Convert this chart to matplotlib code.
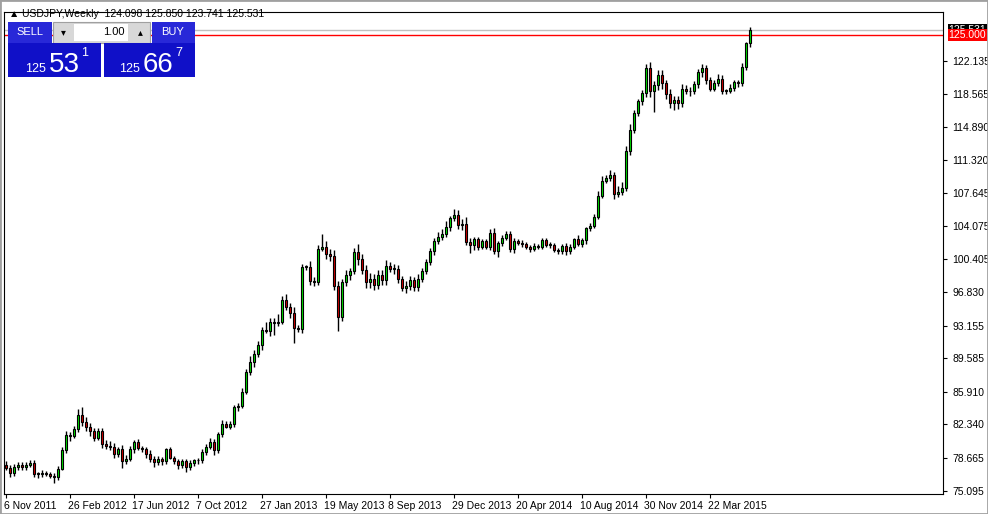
import numpy as np
import matplotlib.pyplot as plt
from matplotlib.patches import Rectangle

# weekly closes USDJPY, 6 Nov 2011 .. 31 May 2015 (one row per month)
closes = [
    77.6, 77.0, 77.7, 77.9,
    77.7, 77.9, 78.1, 76.9,
    76.9, 77.0, 76.9, 76.7, 76.6,
    77.5, 79.5, 81.2, 81.1,
    81.8, 83.4, 82.6, 82.1,
    81.6, 80.9, 81.6, 80.2, 80.0,
    79.9, 79.1, 79.6, 78.3,
    78.6, 79.6, 80.4, 79.8,
    79.6, 79.1, 78.5, 78.2, 78.6,
    78.3, 79.6, 78.7, 78.3,
    77.9, 78.3, 77.7, 78.1, 78.4,
    78.4, 79.3, 79.9, 80.4,
    79.5, 81.3, 82.4, 82.1,
    82.4, 84.2, 84.4, 85.9, 88.1,
    89.2, 90.1, 91.0, 92.7,
    92.6, 93.5, 93.4, 93.6,
    96.0, 95.2, 94.5, 92.9, 92.8,
    99.6, 99.6, 98.0, 97.9,
    101.6, 101.8, 101.0, 100.8,
    97.5, 94.1, 97.9, 98.7, 99.1,
    101.2, 100.4, 99.2, 97.9,
    98.3, 97.6, 98.7, 98.1,
    99.7, 99.4, 99.4, 98.3, 97.3,
    97.5, 98.2, 97.4, 98.3,
    99.1, 100.1, 101.3, 102.4,
    102.9, 103.2, 104.0, 104.9, 105.3,
    104.2, 104.3, 102.3, 102.0,
    102.6, 101.8, 102.4, 101.8,
    103.3, 101.3, 102.2, 102.8, 103.2,
    101.5, 102.4, 102.2, 102.1,
    101.8, 101.5, 101.9, 101.8,
    102.5, 102.0, 102.0, 101.4, 101.3,
    101.9, 101.3, 101.8, 102.6,
    102.1, 102.5, 103.8, 104.1, 105.1,
    107.4, 109.0, 109.3, 109.7,
    107.6, 107.8, 108.2, 112.3,
    114.6, 116.4, 117.7, 118.6, 121.4,
    118.8, 119.5, 120.6, 119.7,
    118.5, 117.5, 117.9, 117.5,
    119.1, 118.8, 118.9, 119.6,
    120.9, 121.4, 120.0, 119.1, 119.7,
    120.2, 118.9, 118.9, 119.2,
    119.8, 119.7, 121.5, 124.1, 125.531,
]
first_open = 77.9

# wick lengths above body / below body
wick_up = [
    0.4, 0.3, 0.3, 0.3,   0.3, 0.3, 0.3, 0.3,   0.2, 0.3, 0.2, 0.2, 0.3,
    0.3, 0.4, 0.4, 0.3,   0.4, 0.6, 0.8, 0.5,   0.4, 0.4, 0.3, 0.4, 0.4,
    0.5, 0.4, 0.3, 0.5,   0.4, 0.4, 0.2, 0.3,   0.2, 0.3, 0.4, 0.4, 0.3,
    0.2, 0.2, 0.3, 0.2,   0.3, 0.2, 0.3, 0.3, 0.2,   0.3, 0.3, 0.3, 0.4,
    0.3, 0.2, 0.4, 0.3,   0.3, 0.3, 0.3, 0.4, 0.3,   0.6, 0.4, 0.5, 0.3,
    0.8, 0.5, 0.5, 0.8,   0.4, 0.6, 0.4, 0.7, 0.3,   0.3, 0.2, 0.6, 0.5,
    0.4, 1.4, 0.6, 0.5,   0.6, 0.5, 0.4, 0.5, 0.4,   0.5, 0.9, 0.6, 0.6,
    0.6, 0.5, 0.6, 0.5,   0.6, 0.4, 0.5, 0.4, 0.3,   0.5, 0.4, 0.3, 0.5,
    0.4, 0.4, 0.4, 0.3,   0.5, 0.5, 0.6, 0.3, 0.6,   0.5, 0.5, 0.7, 0.4,
    0.3, 0.3, 0.2, 0.2,   0.4, 0.6, 0.2, 0.3, 0.3,   0.3, 0.3, 0.2, 0.3,
    0.2, 0.2, 0.3, 0.2,   0.3, 0.2, 0.3, 0.2, 0.3,   0.2, 0.3, 0.3, 0.2,
    0.5, 0.3, 0.2, 0.3, 0.3,   0.5, 0.5, 0.3, 0.5,   0.3, 0.6, 0.7, 0.5,
    0.6, 0.4, 0.3, 0.4, 0.4,   0.6, 0.4, 0.6, 0.5,   0.3, 0.6, 0.4, 0.4,
    0.5, 0.4, 0.4, 0.3,   0.4, 0.4, 0.3, 0.4, 0.4,   0.5, 0.4, 0.2, 0.4,
    0.3, 0.3, 0.4, 0.1, 0.32,
]
wick_dn = [
    0.3, 0.4, 0.3, 0.3,   0.3, 0.3, 0.2, 0.3,   0.4, 0.3, 0.2, 0.2, 0.7,
    0.3, 0.2, 0.3, 0.6,   0.3, 0.3, 0.4, 0.5,   0.5, 0.4, 0.3, 0.4, 0.3,
    0.4, 0.4, 0.3, 0.7,   0.3, 0.3, 0.4, 0.3,   0.3, 0.4, 0.3, 0.5, 0.3,
    0.4, 0.3, 0.2, 0.3,   0.4, 0.3, 0.6, 0.3, 0.3,   0.4, 0.3, 0.3, 0.3,
    0.5, 0.3, 0.3, 0.2,   0.3, 0.3, 0.4, 0.3, 0.2,   0.4, 0.6, 0.4, 0.5,
    0.3, 0.6, 1.3, 0.3,   0.3, 0.3, 0.5, 1.6, 0.3,   0.4, 0.3, 0.4, 0.4,
    0.3, 0.3, 0.5, 0.6,   0.4, 1.5, 0.4, 0.4, 0.5,   0.3, 0.6, 0.4, 0.6,
    0.6, 0.5, 0.4, 0.5,   0.5, 0.4, 0.6, 0.5, 0.4,   0.6, 0.4, 0.4, 0.4,
    0.4, 0.3, 0.3, 0.4,   0.3, 0.4, 0.3, 0.5, 0.3,   0.5, 0.6, 0.3, 0.9,
    0.6, 0.4, 0.3, 0.3,   0.4, 0.3, 0.6, 0.3, 0.3,   0.3, 0.4, 0.2, 0.3,
    0.3, 0.3, 0.2, 0.3,   0.3, 0.2, 0.3, 0.2, 0.3,   0.3, 0.4, 0.3, 0.3,
    0.2, 0.3, 0.4, 0.3, 0.3,   0.3, 0.3, 0.2, 0.3,   0.6, 0.4, 0.3, 0.3,
    0.5, 0.3, 0.3, 0.4, 0.4,   0.6, 2.2, 0.5, 0.6,   0.5, 0.5, 0.7, 0.6,
    0.4, 0.3, 0.5, 0.4,   0.4, 0.5, 0.4, 0.3, 0.3,   0.3, 0.4, 0.4, 0.3,
    0.3, 0.4, 0.3, 0.4, 0.4,
]
tick_labels = ["6 Nov 2011", "26 Feb 2012", "17 Jun 2012", "7 Oct 2012",
               "27 Jan 2013", "19 May 2013", "8 Sep 2013", "29 Dec 2013",
               "20 Apr 2014", "10 Aug 2014", "30 Nov 2014", "22 Mar 2015"]
tick_every = 16
price_ticks = [122.135, 118.565, 114.890, 111.320, 107.645, 104.075, 100.405,
               96.830, 93.155, 89.585, 85.910, 82.340, 78.665, 75.095]
last_price = 125.531
level_line = 125.000

W, H = 988, 514
fig = plt.figure(figsize=(W / 100, H / 100), dpi=100)
plt.rcParams['font.family'] = ['Liberation Sans', 'DejaVu Sans']

def fx(px):
    return px / W

def fy(py):
    return 1 - py / H

ax = fig.add_axes([fx(4), fy(494), fx(939), (494 - 12) / H])
closes = np.array(closes)
opens = np.concatenate([[first_open], closes[:-1]])
highs = np.maximum(opens, closes) + np.array(wick_up)
lows = np.minimum(opens, closes) - np.array(wick_dn)
idx = np.arange(len(closes))

ax.vlines(idx, lows, highs, color='black', lw=1, zorder=2)
for i in idx:
    o, c = opens[i], closes[i]
    col = '#00e000' if c >= o else '#d00000'
    b = min(o, c)
    h = max(abs(c - o), 0.08)
    ax.add_patch(Rectangle((i - 0.35, b), 0.7, h, facecolor=col,
                           edgecolor='black', lw=0.8, zorder=3))

ax.axhline(last_price, color='#c0c0c0', lw=1, zorder=1)
ax.axhline(level_line, color='red', lw=1, zorder=1)

ax.set_xlim(-0.5, 234.25)
ax.set_ylim(74.72, 127.5)
ax.yaxis.tick_right()
ax.set_yticks(price_ticks)
ax.set_yticklabels([f"{p:.3f}" for p in price_ticks])
pos = idx[::tick_every]
ax.set_xticks(pos)
ax.set_xticklabels(tick_labels, ha='left')
ax.tick_params(axis='both', labelsize=7.5, length=3, width=0.8, colors='black')
ax.tick_params(axis='x', pad=2)
for lab in ax.get_xticklabels():
    lab.set_x(0)
import matplotlib.transforms as mtrans
off = mtrans.ScaledTranslation(-2 / 100, 0, fig.dpi_scale_trans)
for lab in ax.get_xticklabels():
    lab.set_transform(lab.get_transform() + off)
for sp in ax.spines.values():
    sp.set_linewidth(0.8)

# price labels on right scale
for p, bg in [(last_price, 'black'), (level_line, 'red')]:
    ax.text(1.006, p, f"{p:.3f}", transform=ax.get_yaxis_transform(),
            fontsize=7.5, color='white', va='center', ha='left',
            bbox=dict(boxstyle='square,pad=0.1', fc=bg, ec='none'), clip_on=False)

# window border
fig.add_artist(Rectangle((0, 0), 1, 1, transform=fig.transFigure, fill=False,
                         ec='#a0a0a0', lw=2))
fig.text(fx(9), fy(14), "\u25b2 USDJPY,Weekly  124.098 125.850 123.741 125.531",
         fontsize=7.5, va='center', ha='left')

# one-click trading panel
def box(x0, y0, x1, y1, fc, ec='none'):
    fig.add_artist(Rectangle((fx(x0), fy(y1)), fx(x1 - x0), (y1 - y0) / H,
                             transform=fig.transFigure, fc=fc, ec=ec, lw=0.8))

box(8, 22, 52, 43, '#2828d8')
box(53, 22, 150, 43, '#d8d8d8', '#a0a0a0')
box(74, 24, 128, 41, 'white')
box(152, 22, 195, 43, '#2828d8')
box(8, 43, 101, 77, '#1010c8')
box(104, 43, 195, 77, '#1010c8')
fig.text(fx(30), fy(32), "SELL", color='white', fontsize=8, ha='center', va='center')
fig.text(fx(173), fy(32), "BUY", color='white', fontsize=8, ha='center', va='center')
fig.text(fx(125), fy(32), "1.00", fontsize=8, ha='right', va='center')
fig.text(fx(63), fy(32), "\u25be", fontsize=7, ha='center', va='center')
fig.text(fx(140), fy(32), "\u25b4", fontsize=7, ha='center', va='center')
for x0, small, big, sup in [(25, "125", "53", "1"), (119, "125", "66", "7")]:
    fig.text(fx(x0), fy(72), small, color='white', fontsize=9, ha='left', va='baseline')
    fig.text(fx(x0 + 24), fy(72), big, color='white', fontsize=20, ha='left', va='baseline')
    fig.text(fx(x0 + 56), fy(56), sup, color='white', fontsize=9, ha='left', va='baseline')

fig.savefig('out.png', dpi=100)
